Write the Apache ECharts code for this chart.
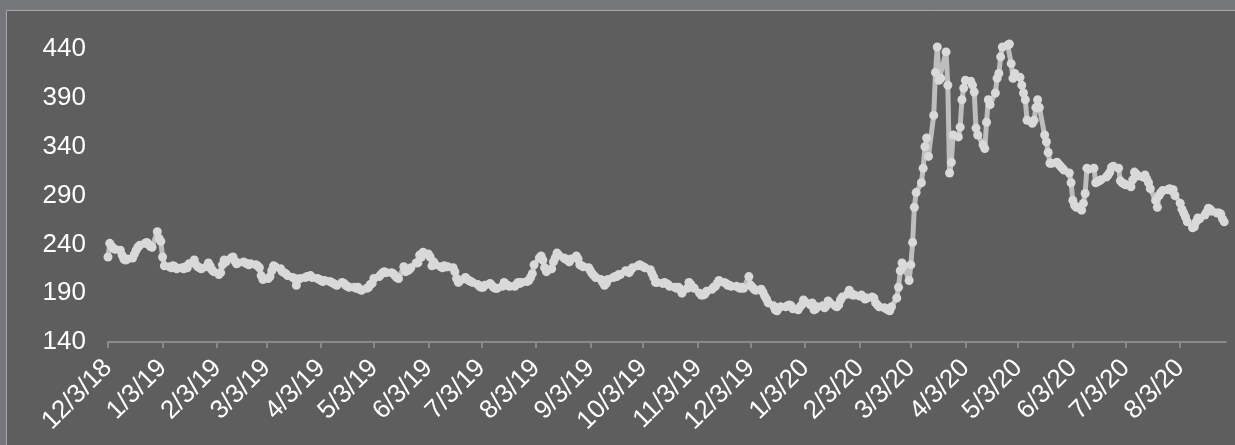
<!DOCTYPE html>
<html>
<head>
    <meta charset="utf-8">
    <title>price chart</title>
    <style>
        body { margin: 0; background: #76777b; }
    </style>
</head>
<body>
    <div id="main" style="width: 1235px;height:445px;"></div>

    <script src="https://cdn.jsdelivr.net/npm/echarts@6.0.0/dist/echarts.min.js"></script>
    <script type="text/javascript">
        // tick labels on the date axis (3rd of each month)
        var tickLabels = ['12/3/18', '1/3/19', '2/3/19', '3/3/19', '4/3/19', '5/3/19', '6/3/19', '7/3/19',
            '8/3/19', '9/3/19', '10/3/19', '11/3/19', '12/3/19', '1/3/20', '2/3/20', '3/3/20', '4/3/20',
            '5/3/20', '6/3/20', '7/3/20', '8/3/20'];

        var firstDay = '12/3/18';
        var lastDay = '8/29/20';

        // daily values, one array per month (weekdays only)
        var m1812 = [227, 241, 238, 236, 235, 234, 229, 225, 224, 225, 226, 230, 234, 237, 239, 241, 242, 240, 238, 237, 253];
        var m1901 = [246, 243, 227, 218, 217, 216, 218, 217, 215, 216, 215, 217, 216, 220, 224, 219, 217, 216, 215, 217, 221, 218, 214];
        var m1902 = [212, 209, 211, 219, 224, 222, 226, 227, 223, 220, 221, 222, 221, 220, 219, 220, 219, 218, 216, 208];
        var m1903 = [204, 205, 207, 213, 218, 217, 215, 212, 211, 210, 208, 206, 205, 198, 204, 205, 206, 207, 207, 208, 206];
        var m1904 = [205, 204, 203, 202, 203, 202, 201, 200, 199, 198, 201, 200, 198, 197, 196, 196, 195, 196, 194, 193, 195, 196];
        var m1905 = [199, 200, 205, 207, 209, 211, 212, 211, 211, 210, 208, 206, 205, 217, 212, 213, 214, 216, 221, 221, 229, 227, 232];
        var m1906 = [230, 227, 218, 222, 219, 217, 216, 218, 217, 217, 216, 212, 205, 201, 203, 206, 204, 203, 202, 201];
        var m1907 = [199, 197, 196, 196, 198, 200, 198, 196, 195, 195, 197, 201, 199, 198, 197, 197, 199, 201, 200, 201, 202, 203, 206];
        var m1908 = [210, 219, 226, 228, 224, 216, 212, 215, 222, 226, 231, 229, 226, 225, 224, 222, 225, 228, 225, 219, 218, 217];
        var m1909 = [216, 213, 210, 208, 206, 204, 201, 198, 200, 204, 206, 207, 207, 209, 209, 213, 212, 211, 214, 216, 218];
        var m1910 = [219, 218, 217, 216, 214, 210, 206, 201, 201, 200, 201, 200, 199, 197, 196, 195, 196, 194, 190, 195, 201, 199, 196];
        var m1911 = [195, 190, 188, 188, 189, 192, 194, 196, 197, 200, 203, 201, 200, 198, 198, 197, 197, 196, 195, 196, 195];
        var m1912 = [207, 198, 196, 194, 193, 194, 191, 187, 184, 180, 177, 173, 172, 175, 176, 176, 177, 178, 177, 174, 173, 176];
        var m2001 = [178, 183, 181, 178, 180, 173, 174, 176, 177, 175, 177, 182, 180, 177, 176, 178, 183, 186, 189, 193, 190, 188, 188];
        var m2002 = [187, 188, 186, 184, 185, 186, 185, 180, 178, 176, 175, 174, 173, 172, 176, 185, 196, 213, 221, 218];
        var m2003 = [203, 219, 242, 278, 293, 303, 318, 340, 349, 330, 372, 416, 442, 408, 410, 437, 403, 313, 324, 352, 350, 360];
        var m2004 = [388, 400, 408, 407, 403, 396, 359, 352, 342, 338, 365, 388, 383, 395, 410, 415, 432, 442, 444, 445, 425, 410];
        var m2005 = [415, 411, 403, 395, 388, 367, 364, 367, 380, 388, 380, 352, 345, 334, 323, 323, 324, 322, 320, 318, 316];
        var m2006 = [313, 303, 285, 280, 278, 275, 282, 292, 318, 317, 318, 303, 304, 305, 306, 309, 311, 314, 319, 320, 318, 305];
        var m2007 = [303, 302, 301, 299, 306, 314, 312, 310, 309, 311, 307, 303, 297, 285, 278, 290, 293, 295, 296, 297, 295, 296, 290];
        var m2008 = [282, 276, 272, 268, 263, 257, 258, 263, 267, 266, 270, 273, 277, 276, 274, 272, 272, 271, 266, 263];

        var monthly = [m1812, m1901, m1902, m1903, m1904, m1905, m1906, m1907, m1908, m1909, m1910, m1911,
            m1912, m2001, m2002, m2003, m2004, m2005, m2006, m2007, m2008];

        function parseMDY(s) {
            var p = s.split('/').map(Number);
            return new Date(2000 + p[2], p[0] - 1, p[1]).getTime();
        }

        // walk weekdays from the first day and pair them with the values
        var data = [];
        var cur = new Date(parseMDY(firstDay));
        monthly.forEach(function (arr) {
            arr.forEach(function (v) {
                while (cur.getDay() === 0 || cur.getDay() === 6) cur.setDate(cur.getDate() + 1);
                data.push([cur.getTime(), v]);
                cur.setDate(cur.getDate() + 1);
            });
        });

        var tickVals = tickLabels.map(parseMDY);

        var myChart = echarts.init(document.getElementById('main'));
        var option = {
            backgroundColor: 'transparent',
            animation: false,
            graphic: [{
                type: 'rect',
                z: -10,
                silent: true,
                shape: { x: 6.5, y: 10.5, width: 1300, height: 500 },
                style: { fill: '#5e5e5e', stroke: '#a9a9a9', lineWidth: 1 }
            }],
            grid: {
                left: 108,
                right: 9,
                top: 49,
                bottom: 103
            },
            xAxis: {
                type: 'value',
                min: parseMDY(firstDay),
                max: parseMDY(lastDay),
                splitLine: { show: false },
                axisLine: { lineStyle: { color: '#8a8a8a', width: 2 } },
                axisTick: {
                    show: true,
                    customValues: tickVals,
                    length: 6,
                    lineStyle: { color: '#8a8a8a', width: 2 }
                },
                axisLabel: {
                    customValues: tickVals,
                    rotate: 45,
                    margin: 22,
                    color: '#ffffff',
                    fontSize: 26,
                    fontFamily: 'Liberation Sans',
                    hideOverlap: false,
                    formatter: function (val) {
                        var d = new Date(val);
                        return (d.getMonth() + 1) + '/' + d.getDate() + '/' + String(d.getFullYear()).slice(2);
                    }
                }
            },
            yAxis: {
                type: 'value',
                min: 140,
                max: 440,
                interval: 50,
                splitLine: { show: false },
                axisLine: { show: false },
                axisTick: { show: false },
                axisLabel: {
                    color: '#ffffff',
                    fontSize: 26,
                    fontFamily: 'Liberation Sans',
                    margin: 22
                }
            },
            series: [{
                name: 'value',
                type: 'line',
                data: data,
                clip: false,
                symbol: 'circle',
                symbolSize: 9,
                showSymbol: true,
                itemStyle: { color: '#d9d9d9' },
                lineStyle: { color: '#bebebe', width: 5 }
            }]
        };
        myChart.setOption(option);
    </script>
</body>
</html>
